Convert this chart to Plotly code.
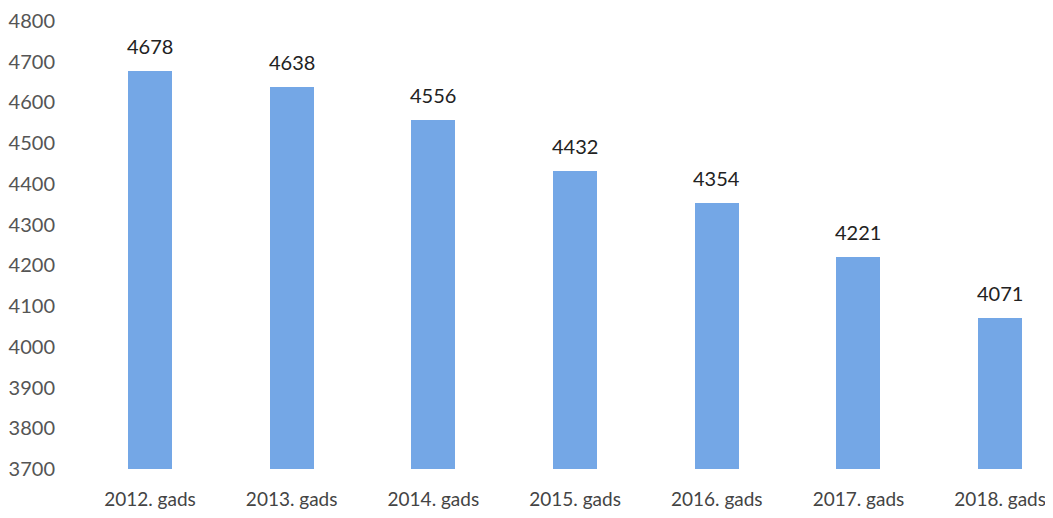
import plotly.graph_objects as go

categories = ["2012. gads", "2013. gads", "2014. gads", "2015. gads", "2016. gads", "2017. gads", "2018. gads"]
values = [4678, 4638, 4556, 4432, 4354, 4221, 4071]
y_ticks = list(range(3700, 4801, 100))

bar_color = "#74a7e6"
font_family = "Lato, 'Open Sans', sans-serif"

fig = go.Figure()
fig.add_trace(go.Bar(
    x=list(range(len(categories))),
    y=values,
    width=0.31,
    marker=dict(color=bar_color, line=dict(width=0)),
    hoverinfo="skip",
))

for i, v in enumerate(values):
    fig.add_annotation(
        x=i, y=v, text=str(v), showarrow=False,
        yanchor="bottom", yshift=11,
        font=dict(family=font_family, size=20, color="#222222"),
    )

fig.update_layout(
    width=1045, height=502,
    margin=dict(l=52, r=0, t=13, b=39),
    paper_bgcolor="white", plot_bgcolor="white",
    showlegend=False,
    bargap=0,
    xaxis=dict(
        range=[-0.635, 6.373],
        tickmode="array",
        tickvals=list(range(len(categories))),
        ticktext=categories,
        showgrid=False, zeroline=False, showline=False,
        ticks="", ticklabelstandoff=17,
        tickfont=dict(family=font_family, size=19, color="#444444"),
    ),
    yaxis=dict(
        range=[3700, 4800],
        tickmode="array",
        tickvals=y_ticks,
        ticktext=[str(t) for t in y_ticks],
        showgrid=False, zeroline=False, showline=False,
        ticks="", ticklabelstandoff=4,
        tickfont=dict(family=font_family, size=20, color="#555555"),
    ),
)

fig.write_html("out.html")
